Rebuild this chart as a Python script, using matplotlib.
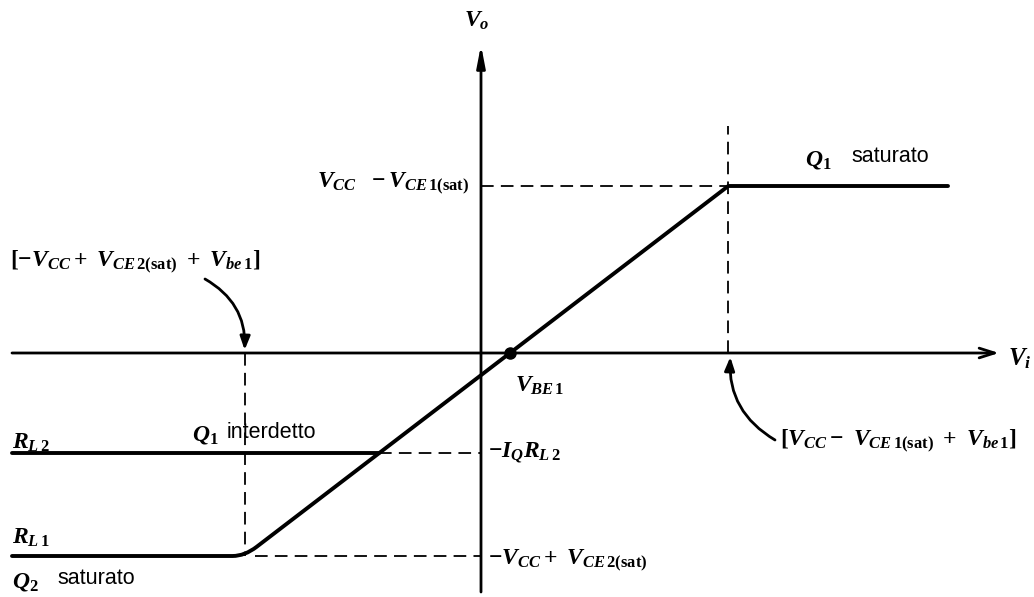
import numpy as np
import matplotlib
matplotlib.use("Agg")
import matplotlib.pyplot as plt
from matplotlib.patches import FancyArrowPatch, PathPatch
from matplotlib.path import Path

plt.rcParams['mathtext.fontset'] = 'custom'
plt.rcParams['mathtext.it'] = 'Liberation Serif:italic:bold'
plt.rcParams['mathtext.rm'] = 'Liberation Serif:bold'
plt.rcParams['mathtext.bf'] = 'Liberation Serif:italic:bold'

# transfer characteristic (arbitrary units, origin at axes crossing)
vbe1 = 0.29          # V_BE1 offset on the V_i axis
gain = 0.765         # slope of the linear region
vo_sat_hi = 1.67     # V_CC - V_CE1(sat)
vo_sat_lo = -2.03    # -V_CC + V_CE2(sat)
vo_iq_rl2 = -1.0     # -I_Q R_L2
vi_min, vi_max = -4.69, 4.67
vo_axis = (-2.39, 3.08)
vi_axis = (-4.69, 5.18)

vi_hi = vbe1 + vo_sat_hi / gain
vi_lo = vbe1 + vo_sat_lo / gain
vi_rl2 = vbe1 + vo_iq_rl2 / gain

fig = plt.figure(figsize=(10.34, 5.97), dpi=100)
ax = fig.add_axes([0, 0, 1, 1])
ax.set_xlim(-4.81, 5.53)
ax.set_ylim(-2.44, 3.53)
ax.axis('off')

# axes with arrows
ax.annotate('', xy=(vi_axis[1], 0), xytext=(vi_axis[0], 0),
            arrowprops=dict(arrowstyle='->,head_length=1.1,head_width=0.35', lw=2, color='black',
                            shrinkA=0, shrinkB=0))
ax.annotate('', xy=(0, vo_axis[1]), xytext=(0, vo_axis[0]),
            arrowprops=dict(arrowstyle='-|>,head_length=1.3,head_width=0.25', lw=2, color='black',
                            shrinkA=0, shrinkB=0))

# dashed guides
dash = dict(color='black', lw=1.3, dashes=(7, 4))
ax.plot([vi_hi, vi_hi], [0, vo_sat_hi + 0.6], **dash)
ax.plot([0, vi_hi], [vo_sat_hi, vo_sat_hi], **dash)
ax.plot([vi_lo, vi_lo], [0, vo_sat_lo], **dash)
ax.plot([vi_lo + 0.1, 0], [vo_sat_lo, vo_sat_lo], **dash)
ax.plot([vi_rl2, 0], [vo_iq_rl2, vo_iq_rl2], **dash)

# R_L1 characteristic with a rounded knee at negative saturation
k = 0.12
verts = [(vi_min, vo_sat_lo), (vi_lo - k, vo_sat_lo),
         (vi_lo, vo_sat_lo), (vi_lo + k, vo_sat_lo + k * gain),
         (vi_hi, vo_sat_hi), (vi_max, vo_sat_hi)]
codes = [Path.MOVETO, Path.LINETO, Path.CURVE3, Path.CURVE3, Path.LINETO, Path.LINETO]
ax.add_patch(PathPatch(Path(verts, codes), fill=False, lw=2.8, color='black',
                       capstyle='round', joinstyle='round'))

# R_L2 characteristic: clipped at -I_Q R_L2
ax.plot([vi_min, vi_rl2], [vo_iq_rl2, vo_iq_rl2], color='black', lw=2.8, solid_capstyle='round')

ax.plot([vbe1], [0], 'o', color='black', ms=8)

fs = 17
sans = dict(fontsize=15.5, family='Liberation Sans', ha='left', va='center')
ax.text(-0.04, 3.33, r'$V_o$', fontsize=fs, ha='center', va='center')
ax.text(5.27, -0.06, r'$V_i$', fontsize=fs + 1, ha='left', va='center')
ax.text(-0.12, vo_sat_hi + 0.02, r'$V_{CC}\ \ -V_{CE\,1\mathrm{(sat)}}$', fontsize=fs, ha='right', va='center')
ax.text(0.34, -0.32, r'$V_{BE\,1}$', fontsize=fs, ha='left', va='center')
ax.text(0.07, vo_iq_rl2, r'$-I_Q R_{L\,2}$', fontsize=fs, ha='left', va='center')
ax.text(0.07, vo_sat_lo - 0.05, r'$-V_{CC}+\ V_{CE\,2\mathrm{(sat)}}$', fontsize=fs, ha='left', va='center')
ax.text(-4.71, 0.91, r'$[-V_{CC}+\ V_{CE\,2\mathrm{(sat)}}\ +\ V_{be\,1}]$', fontsize=fs, ha='left', va='center')
ax.text(2.99, -0.88, r'$[V_{CC}-\ V_{CE\,1\mathrm{(sat)}}\ +\ V_{be\,1}]$', fontsize=fs, ha='left', va='center')

ax.text(3.24, 1.94, r'$Q_1$', fontsize=fs, ha='left', va='center')
ax.text(3.70, 1.96, 'saturato', **sans)
ax.text(-2.89, -0.81, r'$Q_1$', fontsize=fs, ha='left', va='center')
ax.text(-2.54, -0.79, 'interdetto', **sans)
ax.text(-4.69, -0.89, r'$R_{L\,2}$', fontsize=fs, ha='left', va='center')
ax.text(-4.69, -1.84, r'$R_{L\,1}$', fontsize=fs, ha='left', va='center')
ax.text(-4.69, -2.28, r'$Q_2$', fontsize=fs, ha='left', va='center')
ax.text(-4.24, -2.26, 'saturato', **sans)

# curved pointers to the break points on the V_i axis
for tail, head in [((-2.76, 0.74), (vi_lo, 0.03)), ((2.94, -0.87), (vi_hi + 0.02, -0.04))]:
    ax.add_patch(FancyArrowPatch(tail, head, connectionstyle='arc3,rad=-0.3',
                                 arrowstyle='-|>,head_length=8,head_width=3', lw=2,
                                 color='black', shrinkA=0, shrinkB=0))

fig.savefig('out.png', dpi=100)
